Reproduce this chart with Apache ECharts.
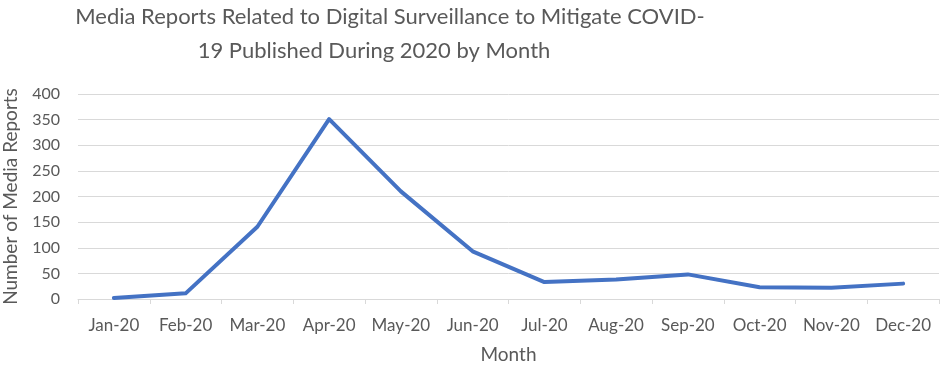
<!DOCTYPE html>
<html>
<head>
<meta charset="utf-8">
<script src="https://cdn.jsdelivr.net/npm/echarts@6/dist/echarts.min.js"></script>
<style>
    html, body { margin: 0; padding: 0; background: #fff; }
    #chart { width: 945px; height: 365px; }
</style>
</head>
<body>
<div id="chart"></div>
<script>
var months = ['Jan-20', 'Feb-20', 'Mar-20', 'Apr-20', 'May-20', 'Jun-20',
    'Jul-20', 'Aug-20', 'Sep-20', 'Oct-20', 'Nov-20', 'Dec-20'];
var reports = [2, 11, 141, 351, 210, 93, 33, 38, 48, 23, 22, 30];
var titleLines = ['Media Reports Related to Digital Surveillance to Mitigate COVID-',
    '19 Published During 2020 by Month'];

var fontName = 'Lato';
var textGrey = '#595959';

// title is wrapped like Excel does it: each line centred on its own
function titleLine(text, centerX, top) {
    return {
        text: text,
        left: centerX,
        top: top,
        textAlign: 'center',
        padding: 0,
        textStyle: {
            fontFamily: fontName,
            fontSize: 22,
            fontWeight: 'normal',
            color: textGrey,
            lineHeight: 34
        }
    };
}

var chart = echarts.init(document.getElementById('chart'));
var option = {
    animation: false,
    textStyle: { fontFamily: fontName },
    title: [
        titleLine(titleLines[0], 390, 0),
        titleLine(titleLines[1], 374, 34)
    ],
    grid: {
        left: 78,
        right: 6,
        top: 94,
        bottom: 66,
        containLabel: false,
        outerBoundsMode: 'none'
    },
    xAxis: {
        type: 'category',
        data: months,
        boundaryGap: true,
        name: 'Month',
        nameLocation: 'middle',
        nameGap: 46,
        nameTextStyle: { fontSize: 19, color: textGrey, fontFamily: fontName },
        axisLine: { lineStyle: { color: '#d9d9d9', width: 1 } },
        axisTick: { show: true, length: 5, alignWithLabel: false, lineStyle: { color: '#d9d9d9' } },
        axisLabel: { fontSize: 17, color: textGrey, margin: 18, interval: 0 }
    },
    yAxis: {
        type: 'value',
        min: 0,
        max: 400,
        interval: 50,
        name: 'Number of Media Reports',
        nameLocation: 'middle',
        nameGap: 58,
        nameTextStyle: { fontSize: 19, color: textGrey, fontFamily: fontName },
        axisLine: { show: false },
        axisTick: { show: false },
        axisLabel: { fontSize: 16, color: textGrey, margin: 18 },
        splitLine: { lineStyle: { color: '#d9d9d9', width: 1 } }
    },
    series: [
        {
            type: 'line',
            data: reports,
            showSymbol: false,
            lineStyle: { color: '#4472C4', width: 4, cap: 'round', join: 'round' },
            itemStyle: { color: '#4472C4' }
        }
    ]
};
chart.setOption(option);
</script>
</body>
</html>
